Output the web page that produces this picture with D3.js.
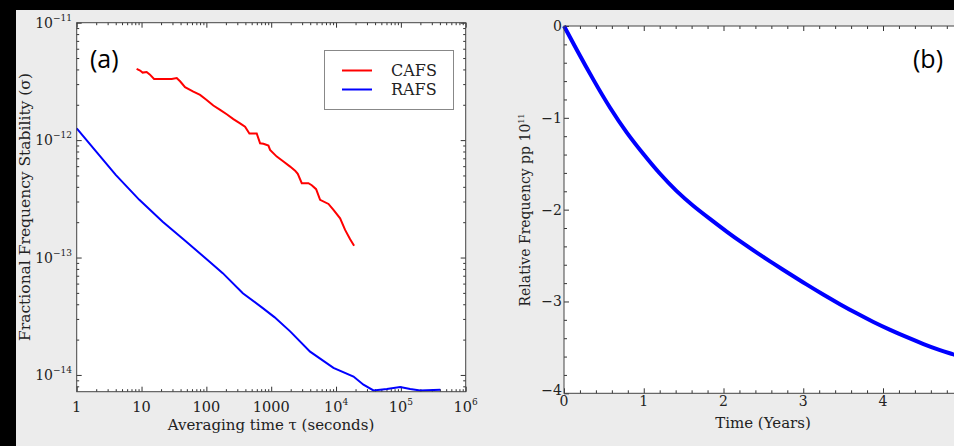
<!DOCTYPE html>
<html>
<head>
<meta charset="utf-8">
<script src="https://cdn.jsdelivr.net/npm/d3@7"></script>
<style>
body { margin: 0; background: #000; }
svg { display: block; }
.tick line { stroke: #333; }
.domain { display: none; }
text { fill: #222; }
</style>
</head>
<body>
<svg id="canvas" width="954" height="446"></svg>
<script>
// (a) Allan deviation
const tauCafs = [8.4, 9.5, 10.4, 12, 13.5, 15.6, 19.3, 29.2, 34.9, 39.3, 46.9, 63, 80, 101, 128, 163, 206, 261, 331, 395, 461, 598, 674, 759, 906, 961, 1219, 1544, 1958, 2338, 2570, 2960, 3750, 4225, 4930, 5680, 7650, 9130, 11560, 13800, 16500, 19000];
const sigmaCafs = [4.04e-12, 3.91e-12, 3.76e-12, 3.80e-12, 3.61e-12, 3.32e-12, 3.32e-12, 3.32e-12, 3.38e-12, 3.17e-12, 2.82e-12, 2.59e-12, 2.43e-12, 2.20e-12, 1.97e-12, 1.81e-12, 1.66e-12, 1.51e-12, 1.39e-12, 1.30e-12, 1.14e-12, 1.14e-12, 9.4e-13, 9.3e-13, 8.98e-13, 8.26e-13, 7.24e-13, 6.57e-13, 5.95e-13, 5.5e-13, 5.16e-13, 4.3e-13, 4.3e-13, 4.13e-13, 3.82e-13, 3.10e-13, 2.86e-13, 2.55e-13, 2.16e-13, 1.72e-13, 1.43e-13, 1.26e-13];

const tauRafs = [1, 2, 4, 9.25, 21.2, 48.6, 111, 179, 365, 742, 1120, 1960, 3980, 9120, 18600, 26500, 37800, 60800, 97600, 139000, 199000, 405000];
const sigmaRafs = [1.26e-12, 7.98e-13, 5.06e-13, 3.10e-13, 2.02e-13, 1.37e-13, 9.25e-14, 7.36e-14, 4.97e-14, 3.71e-14, 3.11e-14, 2.35e-14, 1.58e-14, 1.15e-14, 9.7e-15, 8.26e-15, 7.38e-15, 7.59e-15, 7.89e-15, 7.59e-15, 7.38e-15, 7.48e-15];

// (b) frequency drift
const years = [0, 0.16, 0.37, 0.58, 0.79, 1.0, 1.2, 1.41, 1.62, 1.83, 2.04, 2.25, 2.42, 2.63, 2.83, 3.04, 3.25, 3.46, 3.67, 3.88, 4.09, 4.30, 4.51, 4.71, 4.88, 5.0];
const relFreq = [0, -0.26, -0.59, -0.90, -1.17, -1.40, -1.61, -1.80, -1.96, -2.10, -2.24, -2.37, -2.47, -2.59, -2.70, -2.815, -2.925, -3.03, -3.13, -3.225, -3.31, -3.39, -3.465, -3.53, -3.575, -3.61];

const xTicksA = [1, 10, 100, 1000, 1e4, 1e5, 1e6];
const xTickLabelsA = [["1", ""], ["10", ""], ["100", ""], ["1000", ""], ["10", "4"], ["10", "5"], ["10", "6"]];
const yTicksA = [1e-14, 1e-13, 1e-12, 1e-11];
const yTickLabelsA = [["10", "\u221214"], ["10", "\u221213"], ["10", "\u221212"], ["10", "\u221211"]];
const xTicksB = [0, 1, 2, 3, 4, 5];
const xTickLabelsB = ["0", "1", "2", "3", "4"];
const yTicksB = [0, -1, -2, -3, -4];

const svg = d3.select("#canvas");
const serif = "'DejaVu Serif', serif";

svg.append("rect").attr("width", 954).attr("height", 446).attr("fill", "#000");
svg.append("rect").attr("x", 16).attr("y", 10).attr("width", 938).attr("height", 436).attr("fill", "#ececec");

// ---------- panel (a) ----------
const xa = d3.scaleLog().domain([1, 1e6]).range([76.7, 465.7]);
const ya = d3.scaleLog().domain([7.2e-15, 1e-11]).range([391.7, 22.7]);

const ga = svg.append("g");
ga.append("rect")
    .attr("x", xa.range()[0]).attr("y", ya.range()[1])
    .attr("width", xa.range()[1] - xa.range()[0])
    .attr("height", ya.range()[0] - ya.range()[1])
    .attr("fill", "#fff");

const minorX = [];
for (let e = 0; e < 6; e++) for (let m = 2; m < 10; m++) minorX.push(m * Math.pow(10, e));
const minorY = [];
for (let e = -15; e < -11; e++) for (let m = 2; m < 10; m++) {
    const v = m * Math.pow(10, e);
    if (v >= 7.2e-15 && v < 1e-11) minorY.push(v);
}

function tickAxes(g, xs, ys, xMaj, xMin, yMaj, yMin, big, small) {
    const [x0, x1] = xs.range();
    const [y0, y1] = ys.range();
    const defs = [
        [d3.axisBottom(xs), `translate(0,${y0})`, xMaj, xMin],
        [d3.axisTop(xs), `translate(0,${y1})`, xMaj, xMin],
        [d3.axisLeft(ys), `translate(${x0},0)`, yMaj, yMin],
        [d3.axisRight(ys), `translate(${x1},0)`, yMaj, yMin]
    ];
    defs.forEach(([ax, tr, maj, min]) => {
        g.append("g").attr("transform", tr)
            .call(ax.tickValues(maj).tickSize(-big).tickFormat(""));
        g.append("g").attr("transform", tr)
            .call(ax.tickValues(min).tickSize(-small).tickFormat(""));
    });
}
tickAxes(ga, xa, ya, xTicksA, minorX, yTicksA, minorY, 5, 2.5);

const lineA = d3.line().x(d => xa(d[0])).y(d => ya(d[1]));
ga.append("path")
    .datum(d3.zip(tauCafs, sigmaCafs))
    .attr("d", lineA)
    .attr("fill", "none").attr("stroke", "#ff0000").attr("stroke-width", 2);
ga.append("path")
    .datum(d3.zip(tauRafs, sigmaRafs))
    .attr("d", lineA)
    .attr("fill", "none").attr("stroke", "#0000ff").attr("stroke-width", 2);

ga.append("rect")
    .attr("x", xa.range()[0]).attr("y", ya.range()[1])
    .attr("width", xa.range()[1] - xa.range()[0])
    .attr("height", ya.range()[0] - ya.range()[1])
    .attr("fill", "none").attr("stroke", "#444").attr("stroke-width", 1);

// tick labels with superscripts
const xl = ga.selectAll(".xla").data(xTicksA).enter().append("text")
    .attr("class", "xla")
    .attr("x", d => xa(d)).attr("y", 412)
    .attr("text-anchor", "middle")
    .attr("font-family", serif).attr("font-size", 14.5);
xl.append("tspan").text((d, i) => xTickLabelsA[i][0]);
xl.append("tspan").attr("dy", -7).attr("font-size", 9).text((d, i) => xTickLabelsA[i][1]);

const yl = ga.selectAll(".yla").data(yTicksA).enter().append("text")
    .attr("class", "yla")
    .attr("x", 72).attr("y", d => ya(d) + 5)
    .attr("text-anchor", "end")
    .attr("font-family", serif).attr("font-size", 14);
yl.append("tspan").text((d, i) => yTickLabelsA[i][0]);
yl.append("tspan").attr("dy", -7).attr("font-size", 9).text((d, i) => yTickLabelsA[i][1]);

ga.append("text")
    .attr("x", 271).attr("y", 430)
    .attr("text-anchor", "middle")
    .attr("font-family", serif).attr("font-size", 15)
    .text("Averaging time \u03c4 (seconds)");
ga.append("text")
    .attr("transform", "translate(30,207) rotate(-90)")
    .attr("text-anchor", "middle")
    .attr("font-family", serif).attr("font-size", 15.5)
    .text("Fractional Frequency Stability (\u03c3)");

ga.append("text")
    .attr("x", 90).attr("y", 68)
    .attr("font-family", "'Open Sans', sans-serif").attr("font-size", 25)
    .style("fill", "#000")
    .text("(a)");

// legend
const legend = ga.append("g");
legend.append("rect")
    .attr("x", 324.5).attr("y", 50.5).attr("width", 129).attr("height", 59)
    .attr("fill", "#fff").attr("stroke", "#888");
const seriesNames = ["CAFS", "RAFS"];
const seriesColors = ["#ff0000", "#0000ff"];
seriesNames.forEach((name, i) => {
    const yy = 70.5 + i * 19;
    legend.append("line").attr("x1", 342).attr("x2", 372).attr("y1", yy).attr("y2", yy)
        .attr("stroke", seriesColors[i]).attr("stroke-width", 2);
    legend.append("text").attr("x", 391).attr("y", yy + 5.5)
        .attr("font-family", serif).attr("font-size", 16)
        .text(name);
});

// ---------- panel (b) ----------
const xb = d3.scaleLinear().domain([0, 5]).range([564, 962.75]);
const yb = d3.scaleLinear().domain([-4, 0]).range([393.3, 26]);

const gb = svg.append("g");
gb.append("rect")
    .attr("x", 564).attr("y", 26).attr("width", 398.75).attr("height", 367.3)
    .attr("fill", "#fff");

const minorXB = d3.range(0, 5.001, 0.2).filter(v => Math.abs(v - Math.round(v)) > 1e-6);
const minorYB = d3.range(-4, 0.001, 0.2).filter(v => Math.abs(v - Math.round(v)) > 1e-6);
tickAxes(gb, xb, yb, xTicksB, minorXB, yTicksB, minorYB, 5, 3);

gb.append("path")
    .datum(d3.zip(years, relFreq))
    .attr("d", d3.line().x(d => xb(d[0])).y(d => yb(d[1])).curve(d3.curveBasis))
    .attr("fill", "none").attr("stroke", "#0000ff").attr("stroke-width", 4);

gb.append("rect")
    .attr("x", 564).attr("y", 26).attr("width", 398.75).attr("height", 367.3)
    .attr("fill", "none").attr("stroke", "#444").attr("stroke-width", 1);

gb.selectAll(".xlb").data(xTickLabelsB).enter().append("text")
    .attr("x", d => xb(+d)).attr("y", 406)
    .attr("text-anchor", "middle")
    .attr("font-family", serif).attr("font-size", 14)
    .text(d => d);
gb.selectAll(".ylb").data(yTicksB).enter().append("text")
    .attr("x", 562).attr("y", d => yb(d) + (d === -4 ? 2 : 5))
    .attr("text-anchor", "end")
    .attr("font-family", serif).attr("font-size", 14)
    .text(d => d === 0 ? "0" : "\u2212" + Math.abs(d));

gb.append("text")
    .attr("x", 763).attr("y", 428)
    .attr("text-anchor", "middle")
    .attr("font-family", serif).attr("font-size", 15)
    .text("Time (Years)");
const yLabB = gb.append("text")
    .attr("transform", "translate(530,210) rotate(-90)")
    .attr("text-anchor", "middle")
    .attr("font-family", serif).attr("font-size", 14);
yLabB.append("tspan").text("Relative Frequency pp 10");
yLabB.append("tspan").attr("dy", -6).attr("font-size", 8).text("11");

gb.append("text")
    .attr("x", 913).attr("y", 68)
    .attr("font-family", "'Open Sans', sans-serif").attr("font-size", 25)
    .style("fill", "#000")
    .text("(b)");
</script>
</body>
</html>
